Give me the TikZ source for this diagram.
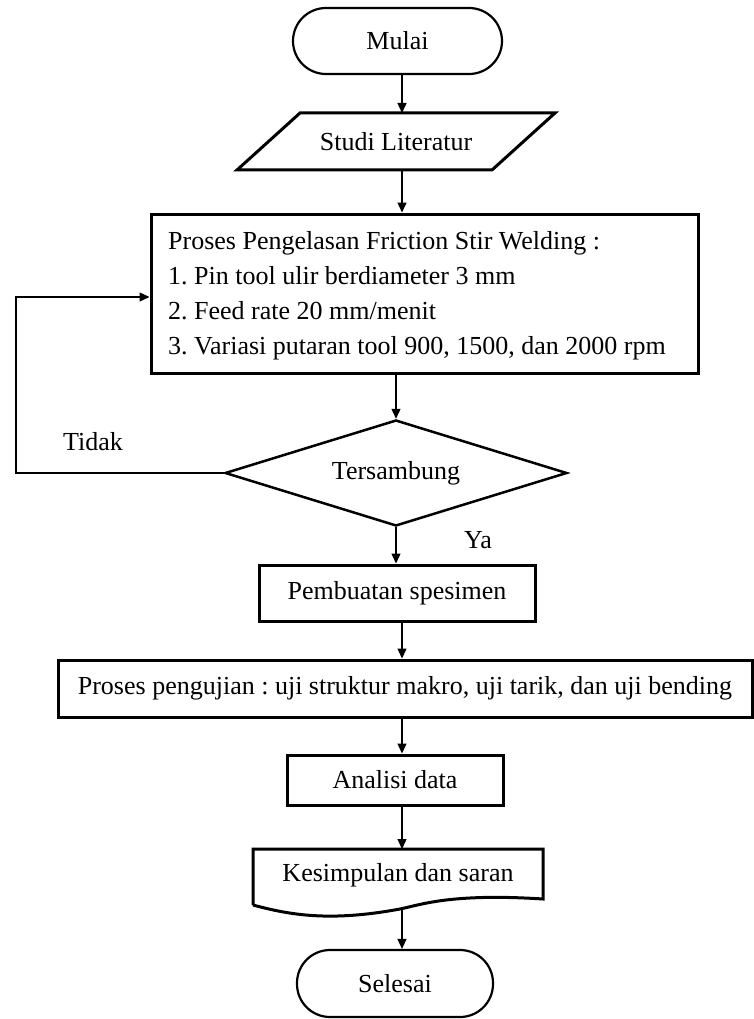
\documentclass[tikz,border=0pt]{standalone}
\usepackage{fontspec}
\setmainfont{Liberation Serif}
\usetikzlibrary{shapes.geometric,arrows.meta}
\frenchspacing
\begin{document}
\begin{tikzpicture}[x=1pt,y=-1pt,
  font=\fontsize{26}{35}\selectfont,
  arr/.style={-{Triangle[length=10pt,width=9pt]},line width=1.4pt},
  term/.style={draw,line width=2.2pt,rounded corners=33pt,inner sep=0pt},
  proc/.style={draw,line width=3pt,inner sep=0pt},
  lbl/.style={inner sep=0pt}]
\useasboundingbox[fill=white] (0,0) rectangle (754,1019);
% start
\node[term,minimum width=209pt,minimum height=66pt] (mulai) at (397.5,41) {Mulai};
% literature (parallelogram)
\node[lbl] (studi) at (396,142) {Studi Literatur};
\coordinate (sTL) at (300,113); \coordinate (sTR) at (555,113);
\coordinate (sBR) at (492,170); \coordinate (sBL) at (237,170);
\draw[line width=3pt,line join=miter] (sTL) -- (sTR) -- (sBR) -- (sBL) -- cycle;
\coordinate (studiT) at (402,113); \coordinate (studiB) at (402,170);
% FSW process
\node[proc,minimum width=547pt,minimum height=159pt] (fsw) at (424.5,293.5) {};
\node[lbl,anchor=base west] (l1) at (168,249) {Proses Pengelasan Friction Stir Welding :};
\node[lbl,anchor=base west] (l2) at (168,284) {1. Pin tool ulir berdiameter 3 mm};
\node[lbl,anchor=base west] (l3) at (168,319) {2. Feed rate 20 mm/menit};
\node[lbl,anchor=base west] (l4) at (168,354) {3. Variasi putaran tool 900, 1500, dan 2000 rpm};
% decision
\node[draw,diamond,shape aspect=3.2,line width=2.5pt,minimum width=342pt,minimum height=106pt,inner sep=0pt] (dia) at (396,473) {Tersambung};
\node[lbl] (tidak) at (93,442) {Tidak};
\node[lbl] (ya) at (478,540) {Ya};
% specimen
\node[proc,minimum width=276pt,minimum height=56pt] (pem) at (397,593) {Pembuatan spesimen};
% testing
\node[proc,minimum width=694pt,minimum height=57pt] (uji) at (405,688.5) {Proses pengujian : uji struktur makro, uji tarik, dan uji bending};
% analysis
\node[proc,minimum width=216pt,minimum height=50pt] (ana) at (395,780) {Analisi data};
% conclusion (document shape)
\node[lbl] (kes) at (398,875) {Kesimpulan dan saran};
\coordinate (kTL) at (253,849); \coordinate (kTR) at (543,849);
\coordinate (kBR) at (543,899); \coordinate (kBL) at (253,905);
\draw[line width=3pt] (kBL) -- (kTL) -- (kTR) -- (kBR)
  .. controls (450,893) and (420,905) .. (400,909)
  .. controls (330,922) and (290,915) .. (kBL);
\coordinate (kesB) at (402,908.5);
% end
\node[term,minimum width=196pt,minimum height=67pt] (sel) at (395,983.5) {Selesai};
% connectors
\draw[arr] (mulai.south -| studiT) -- (studiT);
\draw[arr] (studiB) -- (studiB |- fsw.north);
\draw[arr] (fsw.south -| dia.north) -- (dia.north);
\draw[arr] (dia.south) -- (dia.south |- pem.north);
\coordinate (lp1) at (16,473); \coordinate (lp2) at (16,297);
\draw[arr] (dia.west) -- (lp1) -- (lp2) -- (lp2 -| fsw.west);
\coordinate (x1) at (402,0);
\draw[arr] (pem.south -| x1) -- (uji.north -| x1);
\draw[arr] (uji.south -| x1) -- (ana.north -| x1);
\draw[arr] (ana.south -| x1) -- (kTL -| x1);
\draw[arr] (kesB) -- (sel.north -| kesB);
\end{tikzpicture}
\end{document}
